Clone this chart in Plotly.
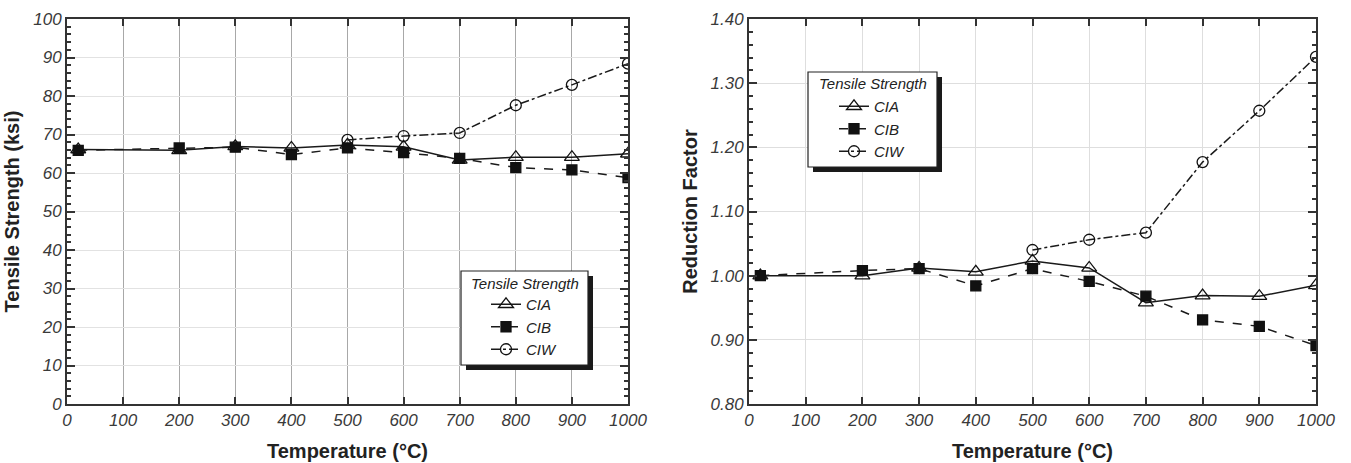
import plotly.graph_objects as go

temps = [20, 200, 300, 400, 500, 600, 700, 800, 900, 1000]
temps_w = [500, 600, 700, 800, 900, 1000]

ts_cia = [66.1, 65.9, 66.9, 66.5, 67.3, 66.8, 63.4, 64.1, 64.1, 65.0]
ts_cib = [65.9, 66.5, 66.7, 64.8, 66.5, 65.3, 63.8, 61.4, 60.8, 58.8]
ts_ciw = [68.6, 69.6, 70.4, 77.6, 82.9, 88.4]

rf_cia = [1.000, 1.000, 1.012, 1.006, 1.023, 1.012, 0.958, 0.969, 0.968, 0.985]
rf_cib = [1.000, 1.008, 1.011, 0.984, 1.011, 0.991, 0.968, 0.931, 0.921, 0.891]
rf_ciw = [1.040, 1.056, 1.067, 1.177, 1.257, 1.341]

W, H = 1351, 463
def px(x): return x / W
def py(y): return 1 - y / H

AX = "#333333"
TICKFONT = dict(family="Liberation Sans, Arial, sans-serif", size=17, color="#3a3a3a", style="italic")
TITLEFONT = dict(family="Liberation Sans Narrow, Liberation Sans, Arial, sans-serif", size=20, color="#222222", weight="bold")

fig = go.Figure()

series = [
    ("CIA", "triangle-up-open", "solid", 13, "white"),
    ("CIB", "square", "dash", 10, "#111111"),
    ("CIW", "circle-open", "dashdot", 11, "white"),
]

def add_set(xs_list, ys_list, xaxis, yaxis, legend):
    for (name, sym, dash, size, fill), xs, ys in zip(series, xs_list, ys_list):
        fig.add_trace(go.Scatter(
            x=xs, y=ys, name=name, mode="lines+markers",
            xaxis=xaxis, yaxis=yaxis, legend=legend,
            line=dict(color="#1a1a1a", width=1.5, dash=dash),
            marker=dict(symbol=sym, size=size, color="#111111",
                        line=dict(color="#111111", width=1.3)),
        ))

add_set([temps, temps, temps_w], [ts_cia, ts_cib, ts_ciw], "x", "y", "legend")
add_set([temps, temps, temps_w], [rf_cia, rf_cib, rf_ciw], "x2", "y2", "legend2")

def xaxis_cfg(domain, anchor, gridcolor):
    return dict(domain=domain, anchor=anchor, range=[0, 1000], dtick=100, tick0=0,
                showgrid=True, gridcolor=gridcolor, gridwidth=1, automargin=False,
                showline=True, linecolor=AX, linewidth=2, mirror="ticks",
                ticks="inside", ticklen=7, tickcolor=AX, tickwidth=1.5,
                tickfont=TICKFONT, zeroline=False,
                title=dict(text="Temperature (°C)", font=TITLEFONT, standoff=15))

def yaxis_cfg(domain, anchor, rng, dtick, minor_dtick, fmt, title, gridcolor):
    return dict(domain=domain, anchor=anchor, range=rng, dtick=dtick, tick0=rng[0],
                tickformat=fmt, automargin=False,
                showgrid=True, gridcolor=gridcolor, gridwidth=1,
                showline=True, linecolor=AX, linewidth=2, mirror="ticks",
                ticks="inside", ticklen=8, tickcolor=AX, tickwidth=1.5,
                minor=dict(dtick=minor_dtick, ticks="inside", ticklen=4, tickcolor=AX, showgrid=False),
                tickfont=TICKFONT, zeroline=False,
                title=dict(text=title, font=TITLEFONT, standoff=8))

ydom = [py(404), py(19)]
fig.update_layout(
    width=W, height=H,
    margin=dict(l=0, r=0, t=0, b=0, autoexpand=False),
    paper_bgcolor="white", plot_bgcolor="white",
    xaxis=xaxis_cfg([px(67), px(628)], "y", "#a8a8a8"),
    yaxis=yaxis_cfg(ydom, "x", [0, 100], 10, 2, "d", "Tensile Strength (ksi)", "#e2e2e2"),
    xaxis2=xaxis_cfg([px(749), px(1316)], "y2", "#dedede"),
    yaxis2=yaxis_cfg(ydom, "x2", [0.8, 1.4], 0.1, 0.02, ".2f", "Reduction Factor", "#dedede"),
    showlegend=True,
)

legend_font = dict(family="Liberation Sans, Arial, sans-serif", size=15, color="#222222", style="italic")
fig.update_layout(
    legend=dict(x=px(524), y=py(288), xanchor="center", yanchor="top",
                bgcolor="rgba(0,0,0,0)", borderwidth=0, font=legend_font,
                tracegroupgap=0, itemwidth=30),
    legend2=dict(x=px(872), y=py(90), xanchor="center", yanchor="top",
                 bgcolor="rgba(0,0,0,0)", borderwidth=0, font=legend_font,
                 tracegroupgap=0, itemwidth=30),
)

# legend boxes with drop shadow
for (l, t, r, b) in [(461, 271, 588, 365), (808, 72, 937, 167)]:
    fig.add_shape(type="rect", xref="paper", yref="paper",
                  x0=px(l + 5), x1=px(r + 5), y0=py(b + 5), y1=py(t + 5),
                  fillcolor="#1a1a1a", line=dict(width=0), layer="above")
    fig.add_shape(type="rect", xref="paper", yref="paper",
                  x0=px(l), x1=px(r), y0=py(b), y1=py(t),
                  fillcolor="white", line=dict(color="#222222", width=1.2), layer="above")
    fig.add_annotation(x=px((l + r) / 2), y=py(t + 12), xref="paper", yref="paper",
                       text="Tensile Strength", showarrow=False,
                       font=legend_font, xanchor="center", yanchor="middle")

fig.write_html("out.html")
